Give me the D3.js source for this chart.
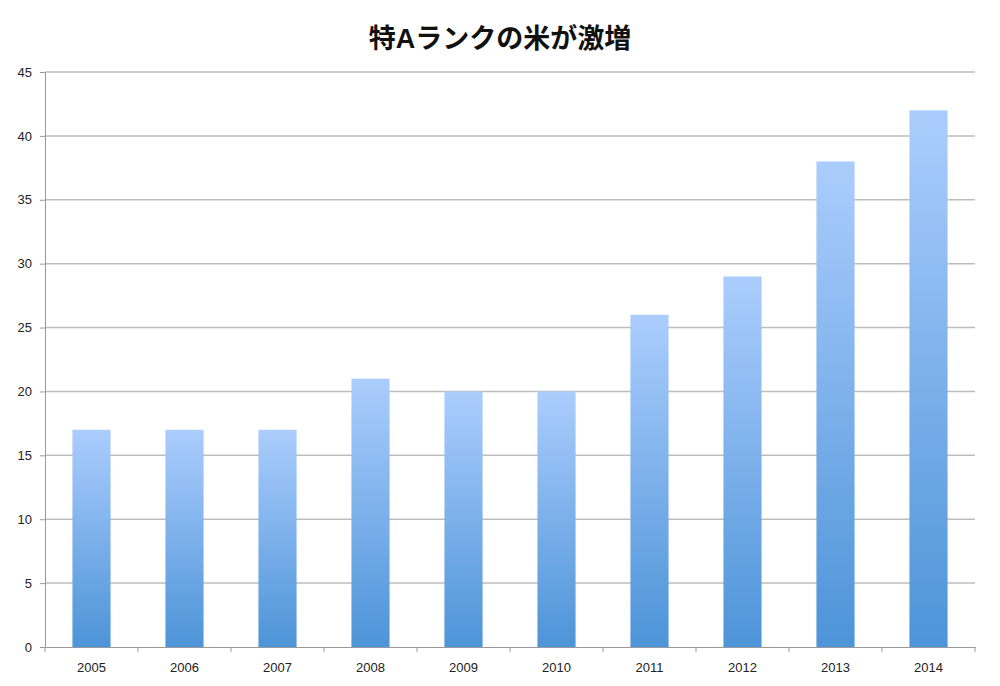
<!DOCTYPE html>
<html>
<head>
<meta charset="utf-8">
<script src="https://cdn.jsdelivr.net/npm/d3@7"></script>
<style>
  body { margin: 0; background: #fff; }
  text { font-family: "Liberation Sans", "Noto Sans CJK JP", sans-serif; }
</style>
</head>
<body>
<svg id="chart" width="1000" height="686"></svg>
<script>
// data
const years = ["2005", "2006", "2007", "2008", "2009", "2010", "2011", "2012", "2013", "2014"];
const counts = [17, 17, 17, 21, 20, 20, 26, 29, 38, 42];
const yTicks = [0, 5, 10, 15, 20, 25, 30, 35, 40, 45];

const svg = d3.select("#chart");
const plotLeft = 45, plotRight = 975, plotTop = 72, plotBottom = 647;

const x = d3.scaleBand().domain(years).range([plotLeft, plotRight]).paddingInner(0.59).paddingOuter(0.295);
const y = d3.scaleLinear().domain([0, 45]).range([plotBottom, plotTop]);

// gradient for bars
const grad = svg.append("defs").append("linearGradient")
  .attr("id", "barGrad").attr("x1", 0).attr("y1", 0).attr("x2", 0).attr("y2", 1);
grad.append("stop").attr("offset", "0%").attr("stop-color", "#abcdfd");
grad.append("stop").attr("offset", "100%").attr("stop-color", "#4d94d8");

// title
svg.append("text")
  .attr("x", 500).attr("y", 48)
  .attr("text-anchor", "middle")
  .attr("font-size", 27).attr("font-weight", "bold")
  .attr("fill", "#111")
  .text("特Aランクの米が激増");

// gridlines
svg.append("g").selectAll("line")
  .data(yTicks.filter(d => d > 0))
  .join("line")
  .attr("x1", plotLeft).attr("x2", plotRight)
  .attr("y1", d => y(d)).attr("y2", d => y(d))
  .attr("stroke", "#bdbdbd").attr("stroke-width", 1.5);

// y axis
const yAxis = svg.append("g")
  .attr("transform", `translate(${plotLeft},0)`)
  .call(d3.axisLeft(y).tickValues(yTicks).tickSize(5).tickPadding(8));
yAxis.select(".domain").attr("stroke", "#999");
yAxis.selectAll(".tick line").attr("stroke", "#999");
yAxis.selectAll("text").attr("font-size", 13).attr("fill", "#222");

// bars
svg.append("g").selectAll("rect")
  .data(counts)
  .join("rect")
  .attr("x", (d, i) => x(years[i]))
  .attr("width", x.bandwidth())
  .attr("y", d => y(d))
  .attr("height", d => plotBottom - y(d))
  .attr("fill", "url(#barGrad)");

// x axis
const xAxis = svg.append("g")
  .attr("transform", `translate(0,${plotBottom})`)
  .call(d3.axisBottom(x).tickSize(0).tickPadding(16));
xAxis.select(".domain").attr("stroke", "#999");
xAxis.selectAll("text").attr("font-size", 13).attr("fill", "#222");
// ticks at band boundaries
xAxis.append("g").selectAll("line")
  .data(d3.range(years.length + 1))
  .join("line")
  .attr("x1", i => plotLeft + i * (plotRight - plotLeft) / years.length)
  .attr("x2", i => plotLeft + i * (plotRight - plotLeft) / years.length)
  .attr("y1", 0).attr("y2", 5)
  .attr("stroke", "#999");
</script>
</body>
</html>
